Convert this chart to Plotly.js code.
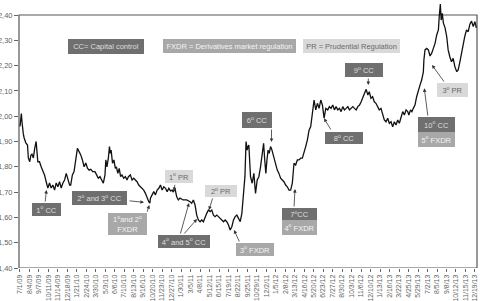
<!DOCTYPE html>
<html>
<head>
<meta charset="utf-8">
<script src="https://cdn.plot.ly/plotly-3.0.1.min.js"></script>
<style>html,body{margin:0;padding:0;background:#fff;overflow:hidden;width:482px;height:301px;}#chart{width:482px;height:301px;overflow:hidden;}</style>
</head>
<body>
<div id="chart"></div>
<script>
const dates = [
'2009-07-01','2009-07-03','2009-07-06','2009-07-08','2009-07-10','2009-07-13','2009-07-16','2009-07-22','2009-07-28','2009-07-31',
'2009-08-05','2009-08-09','2009-08-13','2009-08-18','2009-08-23','2009-08-28','2009-09-03','2009-09-09','2009-09-15','2009-09-21',
'2009-09-27','2009-10-03','2009-10-09','2009-10-15','2009-10-21','2009-10-27','2009-11-02','2009-11-08','2009-11-14','2009-11-20',
'2009-11-26','2009-12-02','2009-12-08','2009-12-14','2009-12-20','2009-12-26','2009-12-30',
'2010-01-05','2010-01-11','2010-01-17','2010-01-23','2010-01-29','2010-02-04','2010-02-10','2010-02-16','2010-02-22','2010-02-28',
'2010-03-06','2010-03-12','2010-03-19','2010-03-27','2010-04-02','2010-04-08','2010-04-14','2010-04-20','2010-04-26','2010-05-02',
'2010-05-05','2010-05-09','2010-05-14','2010-05-18','2010-05-21','2010-05-24','2010-05-29','2010-06-03','2010-06-08','2010-06-12',
'2010-06-17','2010-06-22','2010-06-27','2010-07-02','2010-07-08','2010-07-14','2010-07-20','2010-07-25','2010-08-01','2010-08-07',
'2010-08-13','2010-08-19','2010-08-25','2010-08-31','2010-09-06','2010-09-12','2010-09-18','2010-09-24','2010-09-30','2010-10-06',
'2010-10-10','2010-10-12','2010-10-18','2010-10-24','2010-10-30','2010-11-05','2010-11-11','2010-11-17','2010-11-23','2010-11-29',
'2010-12-05','2010-12-11','2010-12-17','2010-12-23','2010-12-29',
'2011-01-02','2011-01-08','2011-01-14','2011-01-20','2011-01-26','2011-02-06','2011-02-19','2011-03-03','2011-03-09','2011-03-15',
'2011-03-21','2011-03-27','2011-04-02','2011-04-08','2011-04-14','2011-04-20','2011-04-26','2011-05-02','2011-05-08','2011-05-14',
'2011-05-20','2011-05-26','2011-06-01','2011-06-07','2011-06-13','2011-06-19','2011-06-25','2011-07-01','2011-07-07','2011-07-13',
'2011-07-19','2011-07-25','2011-07-31','2011-08-06','2011-08-12','2011-08-18','2011-08-24','2011-08-30','2011-09-05','2011-09-08',
'2011-09-13','2011-09-16','2011-09-20','2011-09-24','2011-09-27','2011-09-30','2011-10-06','2011-10-12','2011-10-18','2011-10-24',
'2011-10-30','2011-11-05','2011-11-11','2011-11-16','2011-11-22','2011-11-26','2011-11-30','2011-12-04','2011-12-08','2011-12-12',
'2011-12-17','2011-12-22','2011-12-28',
'2012-01-04','2012-01-10','2012-01-16','2012-01-22','2012-01-28','2012-02-03','2012-02-09','2012-02-15','2012-02-21','2012-02-27',
'2012-03-04','2012-03-10','2012-03-16','2012-03-22','2012-03-28','2012-04-03','2012-04-09','2012-04-15','2012-04-21','2012-04-27',
'2012-05-03','2012-05-09','2012-05-15','2012-05-21','2012-05-27','2012-06-02','2012-06-08','2012-06-14','2012-06-20','2012-06-26',
'2012-07-02','2012-07-09','2012-07-15','2012-07-21','2012-07-27','2012-08-02','2012-08-08','2012-08-14','2012-08-20','2012-08-26',
'2012-09-01','2012-09-07','2012-09-13','2012-09-19','2012-09-25','2012-10-01','2012-10-07','2012-10-13','2012-10-19','2012-10-25',
'2012-10-31','2012-11-06','2012-11-12','2012-11-18','2012-11-24','2012-11-30','2012-12-05','2012-12-11','2012-12-17','2012-12-23',
'2012-12-29',
'2013-01-04','2013-01-10','2013-01-16','2013-01-22','2013-01-28','2013-02-03','2013-02-09','2013-02-15','2013-02-21','2013-02-27',
'2013-03-05','2013-03-11','2013-03-17','2013-03-23','2013-03-29','2013-04-04','2013-04-10','2013-04-16','2013-04-22','2013-04-26',
'2013-05-02','2013-05-07','2013-05-12','2013-05-18','2013-05-24','2013-05-30','2013-06-05','2013-06-11','2013-06-17','2013-06-19',
'2013-06-23','2013-06-29','2013-07-05','2013-07-11','2013-07-17','2013-07-23','2013-07-29','2013-08-04','2013-08-10','2013-08-13',
'2013-08-17','2013-08-20','2013-08-24','2013-08-28','2013-09-03','2013-09-09','2013-09-14','2013-09-20','2013-09-26','2013-10-02',
'2013-10-08','2013-10-15','2013-10-20','2013-10-26','2013-11-01','2013-11-07','2013-11-13','2013-11-19','2013-11-25','2013-12-01',
'2013-12-07','2013-12-13','2013-12-19','2013-12-24'
];
const rate = [
1.96,1.99,2.01,1.98,1.95,1.93,1.914,1.894,1.886,1.835,
1.82,1.845,1.85,1.835,1.874,1.90,1.82,1.82,1.80,1.787,
1.768,1.741,1.716,1.736,1.716,1.728,1.708,1.736,1.721,1.741,
1.716,1.736,1.748,1.774,1.748,1.728,1.728,
1.768,1.781,1.821,1.873,1.86,1.847,1.827,1.80,1.815,1.795,
1.787,1.79,1.781,1.781,1.768,1.755,1.761,1.748,1.735,1.768,
1.827,1.80,1.834,1.88,1.853,1.866,1.814,1.827,1.794,1.80,
1.774,1.794,1.761,1.768,1.755,1.761,1.748,1.761,1.768,1.748,
1.755,1.748,1.741,1.728,1.721,1.715,1.708,1.695,1.676,1.662,
1.656,1.676,1.689,1.702,1.689,1.708,1.715,1.728,1.708,1.721,
1.715,1.702,1.715,1.705,1.708,
1.70,1.715,1.682,1.669,1.676,1.669,1.669,1.662,1.656,1.669,
1.649,1.609,1.59,1.583,1.59,1.583,1.603,1.616,1.629,1.623,
1.629,1.609,1.603,1.609,1.603,1.596,1.59,1.583,1.59,1.583,
1.57,1.55,1.563,1.59,1.603,1.609,1.596,1.583,1.616,1.656,
1.708,1.761,1.90,1.866,1.88,1.886,1.761,1.735,1.774,1.695,
1.748,1.761,1.80,1.853,1.893,1.827,1.774,1.827,1.866,1.853,
1.88,1.866,1.84,
1.814,1.787,1.774,1.755,1.748,1.741,1.728,1.721,1.708,1.708,
1.735,1.814,1.807,1.827,1.827,1.834,1.834,1.853,1.88,1.906,
1.945,1.959,2.011,2.064,2.025,2.051,2.031,2.064,2.044,1.992,
2.031,2.025,2.038,2.031,2.044,2.025,2.038,2.025,2.031,2.018,
2.038,2.025,2.031,2.038,2.025,2.031,2.038,2.031,2.025,2.038,
2.044,2.057,2.077,2.091,2.106,2.084,2.097,2.071,2.077,2.057,
2.051,
2.038,2.025,2.031,2.011,1.985,1.978,1.992,1.972,1.978,1.958,
1.978,1.965,1.985,1.972,1.998,2.018,2.005,2.025,2.018,2.005,
2.025,2.018,2.031,2.044,2.077,2.104,2.123,2.143,2.175,2.222,
2.262,2.268,2.262,2.238,2.249,2.268,2.288,2.321,2.341,2.393,
2.443,2.38,2.407,2.368,2.349,2.314,2.262,2.235,2.215,2.229,
2.196,2.176,2.183,2.214,2.25,2.289,2.317,2.341,2.334,2.364,
2.376,2.354,2.374,2.349
];
const tickDates = ['2009-07-01','2009-08-04','2009-09-07','2009-10-11','2009-11-14','2009-12-18','2010-01-21','2010-02-24','2010-03-30','2010-05-03','2010-06-06','2010-07-10','2010-08-13','2010-09-16','2010-10-20','2010-11-23','2010-12-27','2011-01-30','2011-03-05','2011-04-08','2011-05-12','2011-06-15','2011-07-19','2011-08-22','2011-09-25','2011-10-29','2011-12-02','2012-01-05','2012-02-08','2012-03-13','2012-04-16','2012-05-20','2012-06-23','2012-07-27','2012-08-30','2012-10-03','2012-11-06','2012-12-10','2013-01-13','2013-02-16','2013-03-22','2013-04-25','2013-05-29','2013-07-02','2013-08-05','2013-09-08','2013-10-12','2013-11-15','2013-12-19'];
const tickLabels = ['7/1/09','8/4/09','9/7/09','10/11/09','11/14/09','12/18/09','1/21/10','2/24/10','3/30/10','5/3/10','6/6/10','7/10/10','8/13/10','9/16/10','10/20/10','11/23/10','12/27/10','1/30/11','3/5/11','4/8/11','5/12/11','6/15/11','7/19/11','8/22/11','9/25/11','10/29/11','12/2/11','1/5/12','2/8/12','3/13/12','4/16/12','5/20/12','6/23/12','7/27/12','8/30/12','10/3/12','11/6/12','12/10/12','1/13/13','2/16/13','3/22/13','4/25/13','5/29/13','7/2/13','8/5/13','9/8/13','10/12/13','11/15/13','12/19/13'];
const yTicks = [1.4,1.5,1.6,1.7,1.8,1.9,2.0,2.1,2.2,2.3,2.4];

const boxTexts = ['CC= Capital control','FXDR = Derivatives market regulation','PR = Prudential Regulation',
 '1<sup>o</sup> CC','2<sup>o</sup> and 3<sup>o</sup> CC','1<sup>o</sup>and 2<sup>o</sup><br>FXDR','1<sup>o</sup> PR','2<sup>o</sup> PR',
 '4<sup>o</sup> and 5<sup>o</sup> CC','3<sup>o</sup> FXDR','6<sup>o</sup> CC','7<sup>o</sup>CC','4<sup>o</sup> FXDR','8<sup>o</sup> CC',
 '9<sup>o</sup> CC','10<sup>o</sup> CC','5<sup>o</sup> FXDR','3<sup>o</sup> PR'];
const boxKinds = ['d','m','l','d','d','m','l','l','d','m','d','d','m','d','d','d','m','l'];

const W = 482, H = 301, ML = 19, MR = 5, MT = 0, MB = 33;
const PW = W - ML - MR, PH = H - MT - MB;
const px = x => (x - ML) / PW;
const py = y => (H - MB - y) / PH;

const boxGeom = [
 [106,46.5,76,15],[229.5,46,133,14],[351.5,46,97,14],
 [46.5,209.5,29,13],[99.5,197.5,55,14],[127.5,224,39,22],[179,176.5,28,13],[221,191,32,12],
 [184,241.5,52,13],[255,249.5,38,13],[257,120,30,16],[299.5,214,35,12],[299.5,227.5,35,15],[344,137.5,38,12],
 [364,70,38,14],[436.5,124.5,37,15],[436.5,139.5,37,15],[452.5,90,31,14]
];
const styles = {d:{bg:'#6f6f6f',fc:'#dedede'}, m:{bg:'#a8a8a8',fc:'#f4f4f4'}, l:{bg:'#d9d9d9',fc:'#6a6a6a'}};
const arrows = [
 [45,203,46.5,190],[128,200.7,144,202.3],[146.7,213.3,149.3,205],[175,183.3,174,191],[213,197,209,210],
 [180,235,189,203],[183,235,197,219],[240,243,234,230],[271.5,128,271.5,142],[294,208,295,189],
 [331.7,131,324,118.3],[368.3,77,368.3,85],[428,117,424.3,88.3],[445,83,432,65]
];

const FONT = 'Liberation Sans, Arial, sans-serif';
const annotations = [];
boxTexts.forEach((t,i)=>{
  const g = boxGeom[i], s = styles[boxKinds[i]];
  annotations.push({xref:'paper',yref:'paper',x:px(g[0]),y:py(g[1]),xanchor:'center',yanchor:'middle',
    text:t,showarrow:false,bgcolor:s.bg,width:g[2],height:g[3],borderpad:0,borderwidth:0,
    font:{family:FONT,size:7.5,color:s.fc}});
});
arrows.forEach(a=>{
  annotations.push({xref:'paper',yref:'paper',x:px(a[2]),y:py(a[3]),ax:a[0]-a[2],ay:a[1]-a[3],
    text:'',showarrow:true,arrowhead:2,arrowsize:0.9,arrowwidth:0.8,arrowcolor:'#333',standoff:0,startstandoff:0});
});

const trace = {x:dates,y:rate,type:'scatter',mode:'lines',line:{color:'#111',width:1.3},hoverinfo:'skip'};
const layout = {
  width:W,height:H,margin:{l:ML,r:MR,t:MT,b:MB},paper_bgcolor:'#fff',plot_bgcolor:'#fff',
  showlegend:false,separators:', ',font:{family:FONT,size:7,color:'#666'},
  xaxis:{type:'date',range:['2009-06-27 12:00','2013-12-26 12:00'],tickvals:tickDates,ticktext:tickLabels,
    tickangle:-90,ticks:'outside',ticklen:3,tickcolor:'#666',showgrid:false,zeroline:false,showline:false,
    tickfont:{family:FONT,size:6.9,color:'#5f5f5f'},automargin:false},
  yaxis:{range:[1.40,1.40+268/253],tickvals:yTicks,tickformat:'.2f',ticks:'outside',ticklen:4,tickcolor:'#666',
    showgrid:false,zeroline:false,showline:false,tickfont:{family:FONT,size:7.5,color:'#5f5f5f'},automargin:false},
  shapes:[{type:'rect',xref:'paper',yref:'y',x0:0,x1:1,y0:1.40,y1:2.40,line:{color:'#555',width:1.2},layer:'below'}],
  annotations:annotations
};
Plotly.newPlot('chart',[trace],layout,{staticPlot:true,displayModeBar:false});
</script>
</body>
</html>
